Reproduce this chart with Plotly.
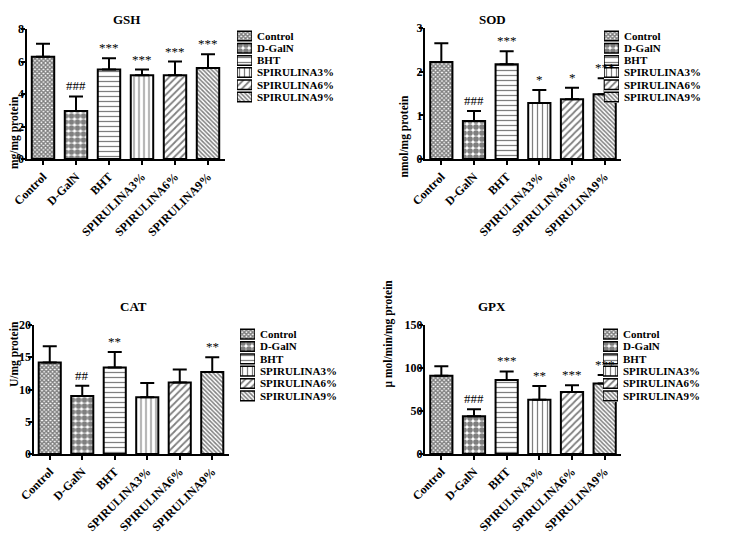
import plotly.graph_objects as go

groups = ["Control", "D-GalN", "BHT", "SPIRULINA3%", "SPIRULINA6%", "SPIRULINA9%"]

gsh_mean = [6.3, 2.95, 5.5, 5.15, 5.15, 5.6]
gsh_err = [0.8, 0.9, 0.7, 0.35, 0.85, 0.85]
gsh_sig = ["", "###", "***", "***", "***", "***"]

sod_mean = [2.22, 0.87, 2.17, 1.28, 1.37, 1.48]
sod_err = [0.43, 0.23, 0.3, 0.3, 0.26, 0.37]
sod_sig = ["", "###", "***", "*", "*", "***"]

cat_mean = [14.2, 9.0, 13.4, 8.8, 11.1, 12.7]
cat_err = [2.5, 1.6, 2.4, 2.2, 2.0, 2.3]
cat_sig = ["", "##", "**", "", "", "**"]

gpx_mean = [91, 44, 86, 63, 72, 82]
gpx_err = [11, 8, 10, 16, 8, 10]
gpx_sig = ["", "###", "***", "**", "***", "***"]

patterns = [
    dict(shape="x", size=3, solidity=0.7),
    dict(shape=".", size=6, solidity=0.7),
    dict(shape="-", size=5, solidity=0.25),
    dict(shape="|", size=5, solidity=0.25),
    dict(shape="/", size=5, solidity=0.35),
    dict(shape="\\", size=3, solidity=0.5),
]

W, H = 743, 534
FONT = "Liberation Serif"


def xd(a, b):
    return [a / W, b / W]


def yd(top, bottom):
    return [1 - bottom / H, 1 - top / H]


# title, ylabel, data, ymax, dtick, then pixel boxes for plot, legend keys, title and y label
panels = [
    ("GSH", "mg/mg protein", gsh_mean, gsh_err, gsh_sig, 8, 2,
     (26.5, 224.5), (29, 159), (237, 252), (30, 103), (111, 10), 6),
    ("SOD", "nmol/mg protein", sod_mean, sod_err, sod_sig, 3, 1,
     (425, 621), (28, 159), (604, 619), (30, 103), (508, 10), 404),
    ("CAT", "U/mg protein", cat_mean, cat_err, cat_sig, 20, 5,
     (33.5, 228.5), (325, 454), (240, 255), (328, 402), (118, 306), 6),
    ("GPX", "\u03bc mol/min/mg protein", gpx_mean, gpx_err, gpx_sig, 150, 50,
     (425, 621), (325, 454), (603, 618), (328, 402), (508, 306), 388),
]

fig = go.Figure()
layout = {}
annotations = []

for k, (title, ylab, mean, err, sig, ymax, dt, xdom, ydom, lxd, lyd, tpos, ylx) in enumerate(panels):
    n = k + 1
    m = k + 5
    xa = "x" if n == 1 else f"x{n}"
    ya = "y" if n == 1 else f"y{n}"
    for i, g in enumerate(groups):
        fig.add_trace(go.Bar(
            x=[g], y=[mean[i]], xaxis=xa, yaxis=ya, width=0.68,
            marker=dict(color="white", line=dict(color="black", width=2),
                        pattern=dict(fgcolor="black", bgcolor="white", **patterns[i])),
            error_y=dict(type="data", array=[err[i]], arrayminus=[0], symmetric=False,
                         thickness=2, width=7, color="black"),
            showlegend=False,
        ))
        if sig[i]:
            annotations.append(dict(
                x=g, y=mean[i] + err[i], xref=xa, yref=ya, text=sig[i],
                showarrow=False, yanchor="bottom", yshift=1,
                font=dict(family=FONT, size=13, color="black"),
            ))
        # legend key
        fig.add_trace(go.Bar(
            y=[g], x=[1], orientation="h", xaxis=f"x{m}", yaxis=f"y{m}", width=0.78,
            marker=dict(color="white", line=dict(color="black", width=1.5),
                        pattern=dict(fgcolor="black", bgcolor="white", **patterns[i])),
            showlegend=False, hoverinfo="skip",
        ))

    layout[f"xaxis{n}"] = dict(
        domain=xd(*xdom), anchor=ya, type="category", categoryarray=groups,
        tickmode="array", tickvals=groups, ticktext=groups,
        range=[-0.5, 5.5], showline=True, linecolor="black", linewidth=2,
        ticks="outside", ticklen=4, tickwidth=1.5, tickcolor="black",
        tickangle=-45, tickfont=dict(family=FONT, size=12, color="black", weight="bold"),
        showgrid=False, zeroline=False,
    )
    layout[f"yaxis{n}"] = dict(
        domain=yd(*ydom), anchor=xa, range=[0, ymax], dtick=dt,
        showline=True, linecolor="black", linewidth=2,
        ticks="outside", ticklen=4, tickwidth=2, tickcolor="black",
        ticklabelstandoff=-6,
        tickfont=dict(family=FONT, size=12, color="black", weight="bold"),
        showgrid=False, zeroline=False,
    )
    layout[f"xaxis{m}"] = dict(
        domain=xd(*lxd), anchor=f"y{m}", range=[0, 1], visible=False,
    )
    layout[f"yaxis{m}"] = dict(
        domain=yd(*lyd), anchor=f"x{m}", type="category", categoryarray=groups[::-1],
        tickmode="array", tickvals=groups, ticktext=groups,
        side="right", showline=False, showgrid=False, zeroline=False, ticks="",
        ticklabelstandoff=4,
        tickfont=dict(family=FONT, size=11, color="black", weight="bold"),
    )
    annotations.append(dict(
        x=tpos[0] / W, y=1 - tpos[1] / H, xref="paper", yref="paper", text=f"<b>{title}</b>",
        showarrow=False, font=dict(family=FONT, size=13, color="black"),
    ))
    annotations.append(dict(
        x=ylx / W, y=1 - (ydom[0] + ydom[1]) / 2 / H, xref="paper", yref="paper",
        text=f"<b>{ylab}</b>", textangle=-90, showarrow=False,
        font=dict(family=FONT, size=11.5, color="black"),
    ))

fig.update_layout(
    width=W, height=H, margin=dict(l=0, r=0, t=0, b=0, autoexpand=False),
    paper_bgcolor="white", plot_bgcolor="white", barmode="overlay",
    annotations=annotations, showlegend=False, **layout,
)

# drop the page's default body margin so the figure sits at the window corner
fig.write_html("out.html", config={"displayModeBar": False},
               post_script="document.body.style.margin='0';")
